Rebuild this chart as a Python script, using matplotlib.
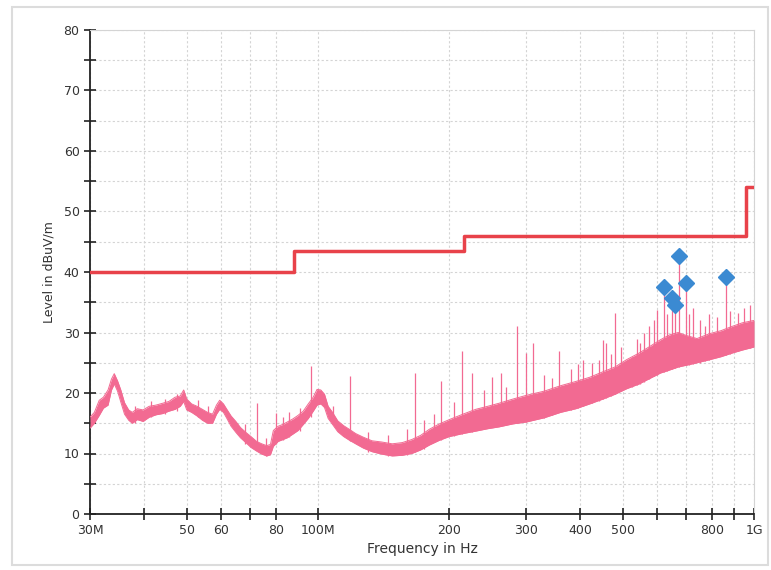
import matplotlib
matplotlib.use('Agg')
import matplotlib.pyplot as plt
from matplotlib.patches import Rectangle

trace_f = [30, 30.7, 31.5, 32.2, 33, 33.6, 34.1, 34.7, 35.3, 36, 36.8, 37.5, 38.5, 39.7,
           41, 42.5, 44, 45.5, 47, 48.3, 49.2, 50, 51.3, 52.8, 54.3, 55.8, 57.3, 58.5,
           59.5, 60.7, 61.8, 63.2, 64.8, 66.4, 68.3, 70.2, 72.3, 74.3, 76.3, 77.8, 79, 81,
           83, 85, 87.5, 90, 92.5, 95, 97.5, 99.5, 101.5, 103.5, 105.5, 108, 111, 114.5,
           118, 122, 127, 133, 140, 148, 156, 164, 172, 180, 190, 200, 215, 230, 245,
           260, 280, 300, 330, 360, 390, 420, 450, 480, 510, 545, 580, 610, 640, 670,
           700, 740, 790, 840, 890, 940, 1000]
trace_lo = [14.2, 15, 16.3, 17.5, 18, 20.5, 21.5, 20.3, 18.5, 16.5, 15.5, 15, 15.6, 15.3,
            16, 16.4, 16.6, 17, 17.3, 17.8, 18.6, 17.2, 16.8, 16.2, 15.5, 15, 15, 16.5,
            17.3, 16.8, 15.8, 14.5, 13.5, 12.6, 11.8, 11, 10.4, 9.9, 9.6, 9.8, 11.2, 12,
            12.3, 12.6, 13.2, 13.8, 14.8, 15.8, 17, 18, 18.2, 17.6, 15.8, 14.8, 13.6, 12.8,
            12.2, 11.6, 10.9, 10.3, 9.9, 9.6, 9.7, 10, 10.6, 11.4, 12.2, 12.8, 13.3, 13.7, 14.1,
            14.4, 14.9, 15.2, 15.9, 16.8, 17.4, 18.2, 19, 19.8, 20.7, 21.5, 22.5, 23.3, 23.8, 24.3,
            24.6, 25, 25.5, 26, 26.6, 27.1, 27.6]
trace_hi = [16, 16.8, 18.8, 19.3, 20.5, 22.3, 23.2, 22, 20.5, 18.4, 17.2, 16.8, 17.4, 17.2,
            17.8, 18, 18.3, 18.6, 19.3, 19.5, 20.5, 19, 18.2, 17.8, 17.3, 16.8, 16.5, 18,
            18.8, 18.2, 17.3, 16.2, 15.3, 14.3, 13.5, 12.8, 12, 11.6, 11.3, 11.5, 13.8, 14.5,
            14.8, 15.2, 15.7, 16.3, 17, 18.2, 19.3, 20.6, 20.5, 19.8, 17.8, 16.8, 15.4, 14.6,
            14, 13.3, 12.7, 12.1, 11.9, 11.6, 11.8, 12.3, 13, 14, 14.9, 15.6, 16.5, 17.3, 17.8,
            18.3, 19, 19.6, 20.3, 21.2, 21.9, 22.6, 23.5, 24.3, 25.5, 26.6, 27.8, 28.8, 29.6, 30,
            29.5, 29, 29.8, 30.3, 31, 31.6, 32]

# narrow spikes in the trace
spike_f = [38, 41.5, 44.5, 47.5, 53, 56, 68, 72.5, 76, 80, 83, 86, 91, 96.5, 108, 118.6,
           130, 145, 160, 167, 175, 185, 191, 205, 214, 226, 240, 251, 263, 270, 286, 300,
           311, 330, 345, 358, 380, 395, 405, 425, 440, 450, 458, 470, 480, 495, 525, 540,
           548, 560, 575, 590, 600, 621, 630, 648, 659, 673, 698, 710, 725, 750, 770, 790,
           823, 862, 880, 920, 950, 980]
spike_top = [17.8, 18.6, 19, 19.8, 18.8, 17.8, 14.8, 18.3, 12.5, 16.7, 16, 16.9, 17.5, 24.5,
             17.8, 22.8, 13.5, 13, 14, 23.3, 15.5, 16.5, 22, 18.5, 27, 23.3, 20.5, 22.7, 23.3,
             21, 31, 26.6, 28.3, 23, 22.5, 27, 24, 24.8, 25.5, 24.9, 25.5, 28.8, 28.3, 26.5,
             33.2, 27.6, 26, 29, 28.3, 30, 31, 32, 33.7, 37.5, 33, 35.7, 34.5, 42.6, 38.2,
             33, 34, 32, 31, 33, 32.6, 39.2, 33.5, 33.2, 34, 34.5]
spike_base = [15, 16, 16.5, 17, 16, 15, 11.5, 10.5, 9.6, 11.5, 12.3, 12.8, 13.8, 16, 14.8, 12,
              10.3, 9.6, 9.8, 10.3, 10.8, 12, 12.3, 12.9, 13.3, 13.6, 14, 14.3, 14.5, 14.7, 15,
              15.2, 15.5, 15.9, 16.3, 16.8, 17.2, 17.6, 17.8, 18.3, 18.7, 19, 19.2, 19.5, 19.8,
              20.3, 21, 21.3, 21.5, 21.9, 22.3, 22.8, 23, 23.5, 23.6, 24, 24.1, 24.3, 24.6,
              24.7, 24.8, 25, 25.3, 25.5, 25.9, 26.3, 26.5, 27, 27.2, 27.5]

# final peaks (markers)
peak_f = [621, 648, 659, 673, 698, 862]
peak_lvl = [37.5, 35.7, 34.5, 42.6, 38.2, 39.2]

# limit line
limit_f = [30, 88, 216, 960, 1000]
limit_lvl = [40, 43.5, 46, 54, 54]

xtick_vals = [30, 50, 60, 80, 100, 200, 300, 400, 500, 800, 1000]
xtick_text = ['30M', '50', '60', '80', '100M', '200', '300', '400', '500', '800', '1G']
xminor_vals = [40, 70, 600, 700, 900]

pink = '#f26a92'

fig = plt.figure(figsize=(7.71, 5.70), dpi=100)
fig.patches.append(Rectangle((12 / 771, 5 / 570), 756 / 771, 558 / 570, transform=fig.transFigure,
                             fill=False, edgecolor='#dcdcdc', linewidth=1.5))
ax = fig.add_axes([90 / 771, 56 / 570, 664 / 771, 484 / 570])

ax.vlines(spike_f, spike_base, spike_top, color=pink, linewidth=0.9, zorder=2)
ax.fill_between(trace_f, trace_lo, trace_hi, color=pink, linewidth=0, zorder=3)
ax.plot(trace_f, trace_lo, color=pink, linewidth=0.7, zorder=3)
ax.plot(trace_f, trace_hi, color=pink, linewidth=0.7, zorder=3)
ax.step(limit_f, limit_lvl, where='post', color='#e8424a', linewidth=2.5, zorder=4)
ax.plot(peak_f, peak_lvl, linestyle='none', marker='D', markersize=8.5,
        color='#3b8ad2', zorder=5)

ax.set_xscale('log')
ax.set_xlim(30, 1000)
ax.set_ylim(0, 80)

ax.set_xticks(xtick_vals)
ax.set_xticklabels(xtick_text)
ax.set_xticks(xminor_vals, minor=True)
ax.set_yticks(range(0, 81, 10))
ax.set_yticks(range(5, 80, 10), minor=True)

ax.tick_params(which='both', direction='inout', length=8, width=1.2, colors='#222222',
               labelsize=9, labelcolor='#333333')
ax.grid(which='both', color='#d4d4d4', linestyle=(0, (2, 2)), linewidth=0.8, zorder=0)

for s in ['top', 'right']:
    ax.spines[s].set_color('#d4d4d4')
    ax.spines[s].set_linewidth(0.8)
for s in ['left', 'bottom']:
    ax.spines[s].set_linewidth(1.3)
    ax.spines[s].set_color('#222222')

ax.set_xlabel('Frequency in Hz', fontsize=10, color='#333333', labelpad=3)
ax.set_ylabel('Level in dBuV/m', fontsize=9, color='#333333', labelpad=6)

plt.savefig('out.png', dpi=100)
